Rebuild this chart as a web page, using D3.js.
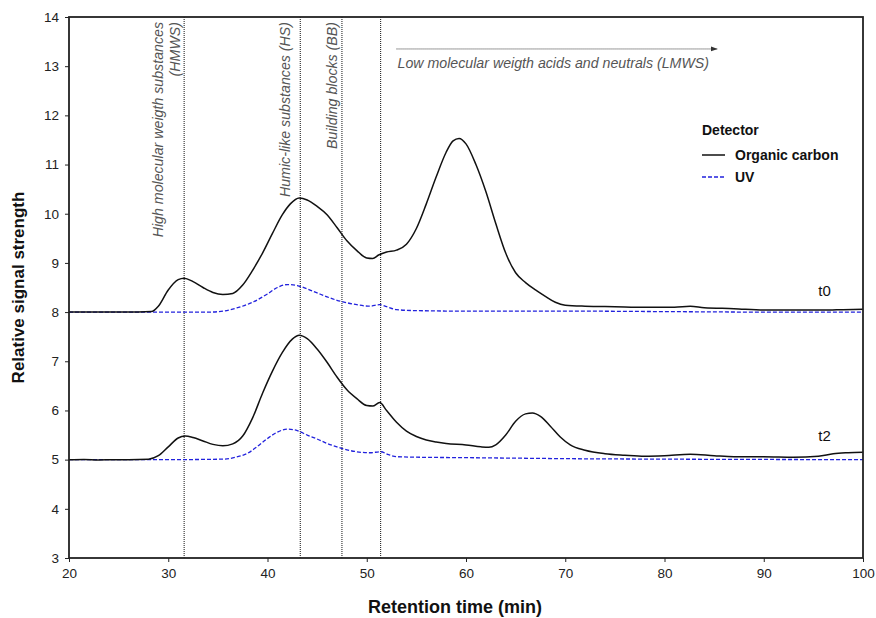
<!DOCTYPE html>
<html>
<head>
<meta charset="utf-8">
<script src="https://cdn.jsdelivr.net/npm/d3@7"></script>
<style>
  html, body { margin: 0; padding: 0; background: #fff; }
  svg { display: block; font-family: "Liberation Sans", Arial, sans-serif; }
</style>
</head>
<body>
<svg id="chart" width="876" height="618"></svg>
<script>
// Retention time (min) vs relative signal, organic carbon and UV detectors
const ocT0 = [[20,8.0],[24,8.0],[27,8.0],[28.3,8.01],[29,8.12],[30,8.45],[31,8.66],[31.6,8.69],[32.5,8.62],[33.5,8.5],[34.5,8.4],[35.5,8.36],[36.5,8.38],[37.5,8.55],[38.5,8.85],[39.5,9.2],[40.5,9.6],[41.5,9.98],[42.3,10.2],[43.2,10.32],[44,10.28],[45,10.15],[46,9.98],[47,9.72],[48,9.45],[49,9.25],[50,9.1],[50.6,9.09],[51.2,9.16],[52,9.22],[53,9.26],[54,9.38],[55,9.7],[56,10.2],[57,10.75],[58,11.25],[58.7,11.48],[59.3,11.53],[60,11.42],[61,11.0],[62,10.45],[63,9.8],[64,9.2],[65,8.8],[66,8.6],[67,8.45],[68,8.32],[69,8.2],[70,8.14],[72,8.12],[75,8.11],[78,8.1],[81,8.1],[82.6,8.12],[84,8.09],[87,8.07],[90,8.04],[93,8.04],[96,8.04],[98,8.05],[100,8.06]];
const uvT0 = [[20,8.0],[30,8.0],[34,8.0],[35.5,8.02],[37,8.09],[38.5,8.2],[40,8.37],[41,8.5],[42,8.56],[43,8.54],[44,8.47],[45,8.39],[46,8.31],[47,8.24],[48,8.19],[49,8.15],[50.3,8.12],[51.3,8.15],[52,8.11],[53,8.05],[55,8.03],[60,8.02],[70,8.02],[80,8.01],[90,8.0],[100,8.0]];
const ocT2 = [[20,5.0],[21.5,5.005],[23,4.995],[24.5,5.0],[26,5.0],[28,5.01],[29,5.08],[30,5.26],[31,5.44],[31.7,5.48],[32.5,5.45],[33.5,5.38],[34.5,5.31],[35.5,5.28],[36.5,5.32],[37.5,5.48],[38.5,5.85],[39.5,6.35],[40.5,6.8],[41.5,7.18],[42.5,7.45],[43.2,7.53],[44,7.46],[45,7.25],[46,6.98],[47,6.68],[48,6.42],[49,6.24],[50,6.1],[50.6,6.09],[51.3,6.16],[52,6.0],[53,5.76],[54,5.58],[55,5.47],[56,5.4],[57,5.36],[58,5.33],[60,5.3],[61.5,5.26],[62.3,5.25],[63,5.3],[64,5.5],[65,5.78],[66,5.93],[66.7,5.95],[67.5,5.88],[68.5,5.68],[69.5,5.46],[70.5,5.3],[72,5.19],[74,5.12],[76,5.09],[78,5.07],[80,5.08],[82.6,5.11],[85,5.08],[87,5.06],[90,5.06],[93,5.05],[95.5,5.07],[97,5.12],[98.5,5.14],[100,5.15]];
const uvT2 = [[20,5.0],[30,5.0],[35.5,5.01],[37,5.06],[38,5.13],[39,5.27],[40,5.43],[41,5.56],[42,5.62],[43,5.59],[44,5.5],[45,5.42],[46,5.33],[47,5.26],[48,5.2],[49,5.16],[50.3,5.14],[51.4,5.16],[52.2,5.1],[53,5.06],[55,5.05],[60,5.04],[65,5.03],[70,5.02],[80,5.01],[100,5.0]];

// fraction boundaries (min)
const dividers = [31.6, 43.3, 47.5, 51.4];
const xTicks = [20, 30, 40, 50, 60, 70, 80, 90, 100];
const yTicks = [3, 4, 5, 6, 7, 8, 9, 10, 11, 12, 13, 14];
const lmwsArrow = [53, 85.3];
const sampleLabels = [["t0", 8.32], ["t2", 5.37]];

const svg = d3.select("#chart");
const margin = { left: 69, right: 13, top: 17, bottom: 60 };
const W = 876, H = 618;

const x = d3.scaleLinear().domain([20, 100]).range([margin.left, W - margin.right]);
const y = d3.scaleLinear().domain([3, 14]).range([H - margin.bottom, margin.top]);

// dotted fraction dividers
svg.append("g").selectAll("line").data(dividers).join("line")
  .attr("x1", d => x(d)).attr("x2", d => x(d))
  .attr("y1", y(14)).attr("y2", y(3))
  .attr("stroke", "#111").attr("stroke-width", 1).attr("stroke-dasharray", "1,1");

// rotated fraction names
const grey = "#555";
const noteSize = 14.2;
function vlabel(tx, text) {
  svg.append("text")
    .attr("transform", `translate(${tx},22) rotate(-90)`)
    .attr("text-anchor", "end")
    .attr("font-size", noteSize).attr("font-style", "italic").attr("fill", grey)
    .text(text);
}
vlabel(x(dividers[0]) - 21, "High molecular weigth substances");
vlabel(x(dividers[0]) - 4, "(HMWS)");
vlabel(x(dividers[1]) - 10, "Humic-like substances (HS)");
vlabel(x(dividers[2]) - 5, "Building blocks (BB)");

// LMWS arrow
svg.append("defs").append("marker")
  .attr("id", "arrowhead").attr("viewBox", "0 0 10 10")
  .attr("refX", 9).attr("refY", 5).attr("markerWidth", 7).attr("markerHeight", 7)
  .attr("orient", "auto")
  .append("path").attr("d", "M0,1.5 L10,5 L0,8.5 Z").attr("fill", "#333");
svg.append("line")
  .attr("x1", x(lmwsArrow[0])).attr("x2", x(lmwsArrow[1]))
  .attr("y1", y(13.35)).attr("y2", y(13.35))
  .attr("stroke", "#333").attr("stroke-width", 1).attr("stroke-dasharray", "1,1")
  .attr("marker-end", "url(#arrowhead)");
svg.append("text")
  .attr("x", x(lmwsArrow[0]) + 1).attr("y", y(12.96))
  .attr("font-size", noteSize).attr("font-style", "italic").attr("fill", grey)
  .text("Low molecular weigth acids and neutrals (LMWS)");

// chromatograms
const line = d3.line().x(d => x(d[0])).y(d => y(d[1])).curve(d3.curveMonotoneX);
const uvColor = "#2222dd";
[uvT0, uvT2].forEach(s => svg.append("path").datum(s).attr("d", line)
  .attr("fill", "none").attr("stroke", uvColor).attr("stroke-width", 1.3)
  .attr("stroke-dasharray", "4,2"));
[ocT0, ocT2].forEach(s => svg.append("path").datum(s).attr("d", line)
  .attr("fill", "none").attr("stroke", "#111").attr("stroke-width", 1.5));

// sample labels
svg.append("g").selectAll("text").data(sampleLabels).join("text")
  .attr("x", x(95.5)).attr("y", d => y(d[1]))
  .attr("font-size", 15).attr("fill", "#111").text(d => d[0]);

// axes
const xAxis = d3.axisBottom(x).tickValues(xTicks).tickSize(4).tickPadding(6);
const yAxis = d3.axisLeft(y).tickValues(yTicks).tickSize(4).tickPadding(6);
const gx = svg.append("g").attr("transform", `translate(0,${y(3)})`).call(xAxis);
const gy = svg.append("g").attr("transform", `translate(${x(20)},0)`).call(yAxis);
[gx, gy].forEach(g => {
  g.select(".domain").remove();
  g.selectAll("text").attr("font-size", 13.5).attr("fill", "#222")
    .attr("font-family", "Liberation Sans, Arial, sans-serif");
  g.selectAll("line").attr("stroke", "#222");
});

// frame
svg.append("rect")
  .attr("x", x(20)).attr("y", y(14))
  .attr("width", x(100) - x(20)).attr("height", y(3) - y(14))
  .attr("fill", "none").attr("stroke", "#222").attr("stroke-width", 1.8);

// axis titles
svg.append("text")
  .attr("x", (x(20) + x(100)) / 2 - 11).attr("y", 613)
  .attr("text-anchor", "middle").attr("font-size", 18).attr("font-weight", "bold")
  .attr("fill", "#111").text("Retention time (min)");
svg.append("text")
  .attr("transform", `translate(24,${(y(3) + y(14)) / 2}) rotate(-90)`)
  .attr("text-anchor", "middle").attr("font-size", 17).attr("font-weight", "bold")
  .attr("fill", "#111").text("Relative signal strength");

// legend
const lg = svg.append("g").attr("transform", "translate(702,0)");
lg.append("text").attr("x", 0).attr("y", 135).attr("font-size", 14)
  .attr("font-weight", "bold").attr("fill", "#111").text("Detector");
lg.append("line").attr("x1", 0).attr("x2", 23).attr("y1", 155).attr("y2", 155)
  .attr("stroke", "#111").attr("stroke-width", 1.5);
lg.append("text").attr("x", 33).attr("y", 160).attr("font-size", 14)
  .attr("font-weight", "bold").attr("fill", "#111").text("Organic carbon");
lg.append("line").attr("x1", 0).attr("x2", 23).attr("y1", 177).attr("y2", 177)
  .attr("stroke", uvColor).attr("stroke-width", 1.3).attr("stroke-dasharray", "4,2");
lg.append("text").attr("x", 33).attr("y", 182).attr("font-size", 14)
  .attr("font-weight", "bold").attr("fill", "#111").text("UV");
</script>
</body>
</html>
